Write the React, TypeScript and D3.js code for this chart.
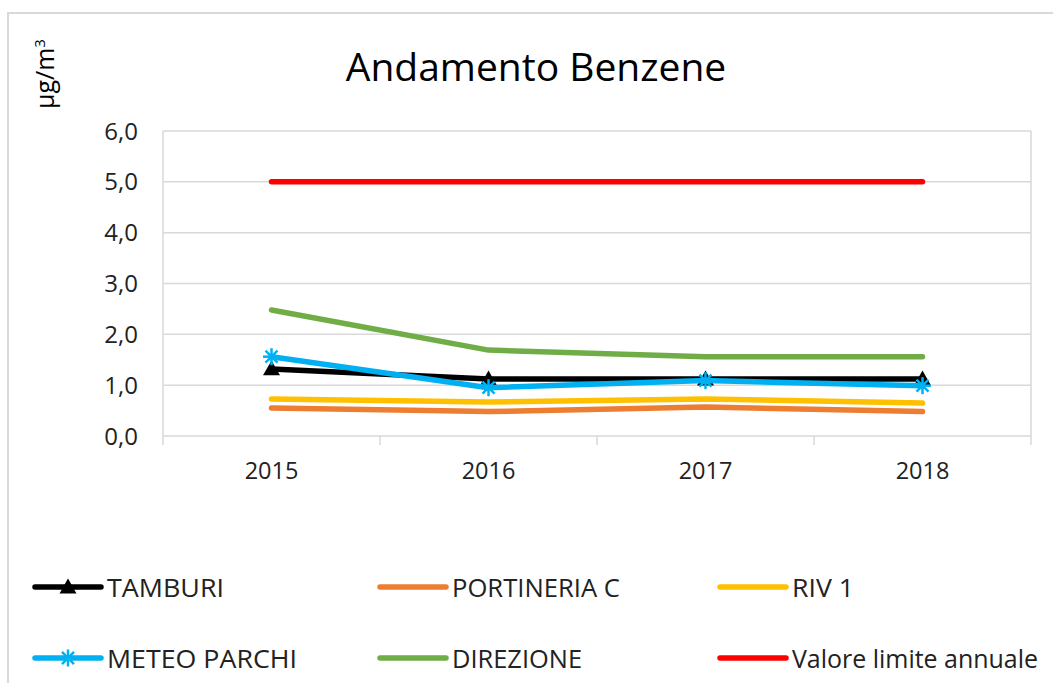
import React from "react";
import * as d3 from "d3";

const years = ["2015", "2016", "2017", "2018"];
const tamburi = [1.32, 1.12, 1.12, 1.12];
const portineria = [0.55, 0.48, 0.57, 0.48];
const riv1 = [0.73, 0.67, 0.73, 0.65];
const meteo = [1.56, 0.95, 1.09, 0.99];
const direzione = [2.48, 1.69, 1.56, 1.56];
const limite = [5.0, 5.0, 5.0, 5.0];
const yTicks = [0, 1, 2, 3, 4, 5, 6];

const series = [
  { name: "TAMBURI", values: tamburi, color: "#000000", marker: "triangle" },
  { name: "PORTINERIA C", values: portineria, color: "#ED7D31", marker: "none" },
  { name: "RIV 1", values: riv1, color: "#FFC000", marker: "none" },
  { name: "METEO PARCHI", values: meteo, color: "#00B0F0", marker: "star" },
  { name: "DIREZIONE", values: direzione, color: "#70AD47", marker: "none" },
  { name: "Valore limite annuale", values: limite, color: "#FF0000", marker: "none" },
];
const drawOrder = [5, 4, 2, 1, 0, 3];

const legendPos = [
  { x: 35, y: 587, tw: 117 },
  { x: 380, y: 587, tw: 168 },
  { x: 720, y: 587, tw: 62 },
  { x: 35, y: 658, tw: 190 },
  { x: 380, y: 658, tw: 130 },
  { x: 720, y: 658, tw: 246 },
];

const FONT = "'Open Sans', 'DejaVu Sans', sans-serif";

function Marker({ type, x, y, color }: { type: string; x: number; y: number; color: string }) {
  if (type === "triangle") {
    const s = 8.5;
    return <path d={`M${x},${y - s} L${x + s},${y + s * 0.75} L${x - s},${y + s * 0.75} Z`} fill={color} />;
  }
  if (type === "star") {
    const r = 8.5;
    const lines = [0, 45, 90, 135].map((a) => {
      const rad = (a * Math.PI) / 180;
      return (
        <line key={a} x1={x - r * Math.cos(rad)} y1={y - r * Math.sin(rad)} x2={x + r * Math.cos(rad)} y2={y + r * Math.sin(rad)} stroke={color} strokeWidth={2.5} />
      );
    });
    return <g>{lines}</g>;
  }
  return null;
}

export default function App() {
  const W = 1053, H = 683;
  const left = 163, right = 1031, top = 131, bottom = 436;
  const x = d3.scaleBand<string>().domain(years).range([left, right]);
  const y = d3.scaleLinear().domain([0, 6]).range([bottom, top]);
  const line = d3.line<number>().x((_, i) => (x(years[i]) as number) + x.bandwidth() / 2).y((d) => y(d));
  const fmt = (v: number) => v.toFixed(1).replace(".", ",");

  return (
    <svg width={W} height={H} style={{ position: "absolute", left: 0, top: 0 }}>
      <rect x={0} y={0} width={W} height={H} fill="#fff" />
      <rect x={8} y={13} width={W + 20} height={H + 20} fill="none" stroke="#d9d9d9" strokeWidth={2} />
      <text x={536} y={81} textAnchor="middle" fontFamily={FONT} fontSize={39} fill="#000">Andamento Benzene</text>
      <text transform="translate(54,74) rotate(-90)" textAnchor="middle" fontFamily={FONT} fontSize={25} fill="#000">
        µg/m<tspan dy={-9} fontSize={15}>3</tspan>
      </text>
      {yTicks.map((t) => (
        <g key={t}>
          <line x1={left} x2={right} y1={y(t)} y2={y(t)} stroke="#d9d9d9" strokeWidth={1.5} />
          <text x={138} y={y(t) + 8.5} textAnchor="end" fontFamily={FONT} fontSize={24} fill="#222">{fmt(t)}</text>
        </g>
      ))}
      <line x1={left} x2={left} y1={top} y2={bottom + 9} stroke="#d9d9d9" strokeWidth={1.5} />
      <line x1={right} x2={right} y1={top} y2={bottom + 9} stroke="#d9d9d9" strokeWidth={1.5} />
      {years.map((yr, i) => (
        <g key={yr}>
          {i > 0 && <line x1={x(yr)} x2={x(yr)} y1={bottom} y2={bottom + 9} stroke="#d9d9d9" strokeWidth={1.5} />}
          <text x={(x(yr) as number) + x.bandwidth() / 2} y={479} textAnchor="middle" fontFamily={FONT} fontSize={23.5} fill="#222">{yr}</text>
        </g>
      ))}
      {drawOrder.map((k) => {
        const s = series[k];
        return (
          <g key={s.name}>
            <path d={line(s.values) || ""} fill="none" stroke={s.color} strokeWidth={5.5} strokeLinecap="round" strokeLinejoin="round" />
            {s.values.map((v, i) => (
              <Marker key={i} type={s.marker} x={(x(years[i]) as number) + x.bandwidth() / 2} y={y(v)} color={s.color} />
            ))}
          </g>
        );
      })}
      {series.map((s, i) => {
        const p = legendPos[i];
        return (
          <g key={s.name}>
            <line x1={p.x} x2={p.x + 66} y1={p.y} y2={p.y} stroke={s.color} strokeWidth={5.5} strokeLinecap="round" />
            <Marker type={s.marker} x={p.x + 33} y={p.y} color={s.color} />
            <text x={p.x + 72} y={p.y + 9.5} fontFamily={FONT} fontSize={25.5} fill="#222" textLength={p.tw} lengthAdjust="spacingAndGlyphs">{s.name}</text>
          </g>
        );
      })}
    </svg>
  );
}
